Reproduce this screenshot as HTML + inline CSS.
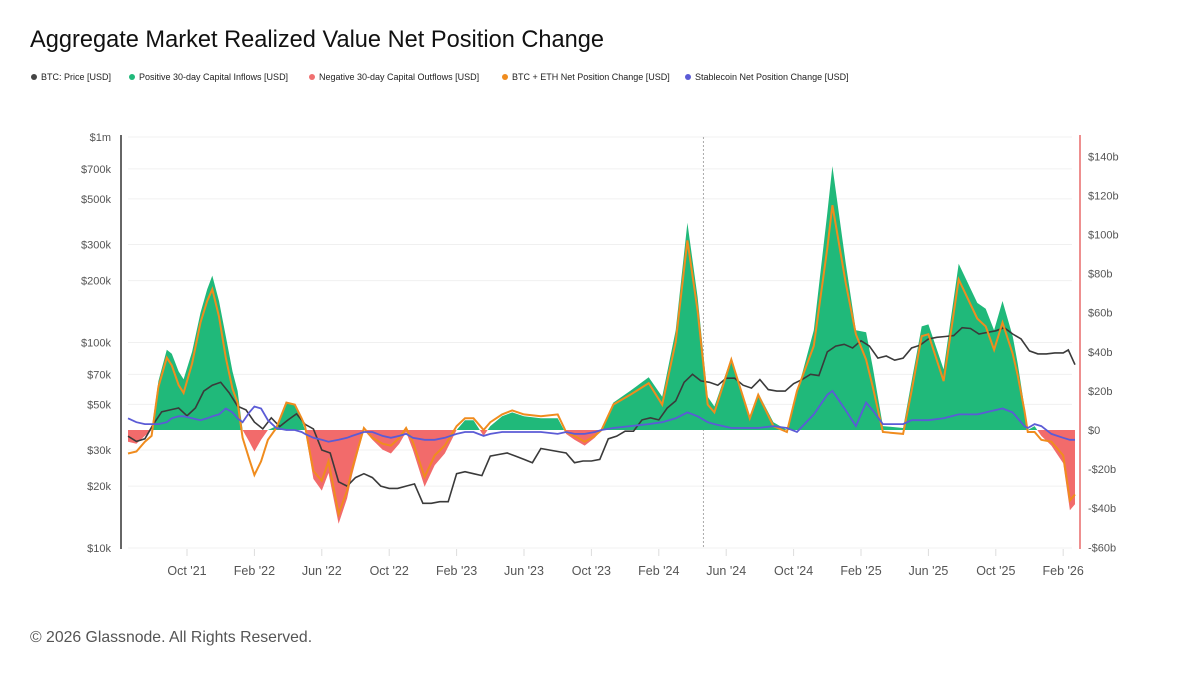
<!DOCTYPE html>
<html><head><meta charset="utf-8">
<style>
body{margin:0;background:#fff;font-family:"Liberation Sans",sans-serif;}
#wrap{position:relative;width:1200px;height:675px;overflow:hidden;}
.title{position:absolute;left:30px;top:27px;font-size:23.6px;color:#111;}
.legend{position:absolute;left:0;top:72px;font-size:9px;color:#222;}
.legend span{position:absolute;white-space:nowrap;display:flex;align-items:center;}
.legend i{display:inline-block;width:6px;height:6px;border-radius:50%;margin-right:4px;}
.foot{position:absolute;left:30px;top:629px;font-size:15.8px;color:#555;}
</style></head><body>
<div id="wrap">
<div class="title">Aggregate Market Realized Value Net Position Change</div>
<div class="legend">
<span style="left:31px"><i style="background:#444"></i>BTC: Price [USD]</span>
<span style="left:129px"><i style="background:#20b97a"></i>Positive 30-day Capital Inflows [USD]</span>
<span style="left:309px"><i style="background:#f07070"></i>Negative 30-day Capital Outflows [USD]</span>
<span style="left:502px"><i style="background:#f08c1e"></i>BTC + ETH Net Position Change [USD]</span>
<span style="left:685px"><i style="background:#5b5bd6"></i>Stablecoin Net Position Change [USD]</span>
</div>
<svg id="chart" width="1200" height="675" style="position:absolute;left:0;top:0"></svg>
<div class="foot">© 2026 Glassnode. All Rights Reserved.</div>
</div>
<script>
// months since Jan 2021
const netDates=[5.5,6.0,6.5,6.9,7.3,7.8,8.1,8.5,8.8,9.3,9.8,10.2,10.5,10.9,11.3,11.7,12.0,12.3,12.7,13.0,13.4,13.8,14.3,14.9,15.4,15.8,16.0,16.5,17.0,17.4,18.0,18.5,18.8,19.5,20.0,20.6,21.1,21.6,22.0,22.4,23.1,23.7,24.3,25.0,25.5,26.0,26.6,27.0,27.7,28.3,29,30,31,31.5,32.0,32.6,33.2,33.6,34.3,35.3,36.4,37.2,38.0,38.7,39.3,39.9,40.3,41.3,42.4,42.9,43.8,44.6,45.2,46.2,47.0,47.3,48.1,48.7,49.3,49.7,50.3,51.5,52.0,52.6,53.0,53.9,54.8,55.9,56.4,56.9,57.4,58.0,58.3,58.7,58.9,59.3,59.7,60.3,61.0,61.4,61.7];
const totalNet=[-6,-7,-3,0,25,41,39,30,26,40,60,72,79,66,48,30,20,0,-6,-11,-5,0,2,14,13,5,0,-25,-31,-22,-48,-35,-23,0,-5,-10,-12,-7,-1,-10,-29,-18,-12,0,5,5,-3,2,7,9,7,6,6,-2,-5,-8,-4,0,14,20,27,17,51,106,68,17,12,37,7,19,4,0,19,51,111,135,85,51,50,32,2,1,25,53,54,31,85,65,62,51,66,48,34,12,0,2,-3,-8,-17,-41,-38];
const stableNet=[6,4,3,3,3,4,6,7,7,6,5,6,7,8,11,9,6,4,9,12,11,5,1,0,0,-1,-2,-4,-5,-6,-5,-4,-3,-1,-1,-3,-4,-3,-2,-4,-5,-5,-4,-2,-1,-1,-3,-2,-1,-1,-1,-1,-2,-1,-2,-2,-1,0,1,2,3,4,6,9,7,4,3,1,1,1,2,1,-1,8,18,20,10,2,14,10,3,3,5,5,5,6,8,8,9,10,11,9,6,2,1,3,2,-2,-4,-5,-5];
const priceDates=[5.5,6,6.5,7,7.5,8,8.5,9,9.5,10,10.5,11,11.5,12,12.5,13,13.5,14,14.5,15,15.5,16,16.5,17,17.5,18,18.5,19,19.5,20,20.5,21,21.5,22,22.5,23,23.5,24,24.5,25,25.5,26,26.5,27,27.5,28,28.5,29,29.5,30,30.5,31,31.5,32,32.5,33,33.5,34,34.5,35,35.5,36,36.5,37,37.5,38,38.5,39,39.5,40,40.5,41,41.5,42,42.5,43,43.5,44,44.5,45,45.5,46,46.5,47,47.5,48,48.5,49,49.5,50,50.5,51,51.5,52,52.5,53,53.5,54,54.5,55,55.5,56,56.5,57,57.5,58,58.5,59,59.5,60,60.5,61,61.3,61.7];
const priceK=[35,33,34,40,46,47,48,44,48,58,62,64,57,49,47,41,38,43,39,42,45,40,38,30,29,21,20,22,23,22,20,19.5,19.5,20,20.5,16.5,16.5,16.8,16.8,23,23.5,23,22.5,28,28.5,29,28,27,26,30.5,30,29.5,29,26,26.5,26.5,27,34,35,37,37,42,43,42,48,52,64,70,65,64,62,67,67,62,60,66,59,58,58,63,66,70,69,90,96,98,94,102,96,84,86,82,84,94,97,104,106,107,108,118,117,110,112,114,118,110,104,91,88,88,89,89,92,78,68,69];
const leftTicks=[1000000,700000,500000,300000,200000,100000,70000,50000,30000,20000,10000];
const leftLabels=["$1m","$700k","$500k","$300k","$200k","$100k","$70k","$50k","$30k","$20k","$10k"];
const rightTicks=[140,120,100,80,60,40,20,0,-20,-40,-60];
const rightLabels=["$140b","$120b","$100b","$80b","$60b","$40b","$20b","$0","-$20b","-$40b","-$60b"];
const xTicks=[9,13,17,21,25,29,33,37,41,45,49,53,57,61];
const xLabels=["Oct '21","Feb '22","Jun '22","Oct '22","Feb '23","Jun '23","Oct '23","Feb '24","Jun '24","Oct '24","Feb '25","Jun '25","Oct '25","Feb '26"];
const halvingDate=39.65;

const svg=document.getElementById('chart');
const NS='http://www.w3.org/2000/svg';
const X=t=>187+(t-9)*16.85;
const YL=p=>137+(6-Math.log10(p))*205.5;
const YR=v=>430-v*1.955;
function mk(tag,attrs){const e=document.createElementNS(NS,tag);for(const k in attrs)e.setAttribute(k,attrs[k]);svg.appendChild(e);return e;}

leftTicks.forEach((p,i)=>{
  const g=mk('line',{x1:128,x2:1072,y1:YL(p),y2:YL(p),stroke:'#f0f0f0','stroke-width':1});
  
  
  const t=mk('text',{x:111,y:YL(p)+4,'text-anchor':'end','font-size':11,fill:'#555','font-family':'Liberation Sans'});
  t.textContent=leftLabels[i];
  
  
});
rightTicks.forEach((v,i)=>{
  const t=mk('text',{x:1088,y:YR(v)+4,'font-size':11,fill:'#555','font-family':'Liberation Sans'});
  t.textContent=rightLabels[i];
  
  
});
xTicks.forEach((m,i)=>{
  const l=mk('line',{x1:X(m),x2:X(m),y1:549,y2:556,stroke:'#ddd','stroke-width':1});
  
  
  const t=mk('text',{x:X(m),y:575,'text-anchor':'middle','font-size':12.5,fill:'#555','font-family':'Liberation Sans'});
  t.textContent=xLabels[i];
  
  
});
const hl=mk('line',{x1:X(halvingDate),x2:X(halvingDate),y1:137,y2:549,stroke:'#aaa','stroke-width':1,'stroke-dasharray':'2,2'});



const defs=mk('defs',{});
defs.innerHTML='<clipPath id="pos"><rect x="0" y="0" width="1200" height="'+YR(0)+'"/></clipPath><clipPath id="neg"><rect x="0" y="'+YR(0)+'" width="1200" height="400"/></clipPath>';
let area='M'+X(netDates[0])+','+YR(0);
netDates.forEach((t,i)=>{area+=' L'+X(t).toFixed(1)+','+YR(totalNet[i]).toFixed(1);});
area+=' L'+X(netDates[netDates.length-1])+','+YR(0)+' Z';
const ga=mk('path',{d:area,fill:'#20b97a','clip-path':'url(#pos)'});


const ra=mk('path',{d:area,fill:'#f26b6b','clip-path':'url(#neg)'});



function line(xs,ys,fx,fy){return xs.map((t,i)=>(i?'L':'M')+fx(t).toFixed(1)+','+fy(ys[i]).toFixed(1)).join(' ');}
const pp=mk('path',{d:line(priceDates,priceK,X,p=>YL(p*1000)),fill:'none',stroke:'#3a3a3a','stroke-width':1.6});


const orange=totalNet.map((v,i)=>v-stableNet[i]);
const op=mk('path',{d:line(netDates,orange,X,YR),fill:'none',stroke:'#f08c1e','stroke-width':2});


const bp=mk('path',{d:line(netDates,stableNet,X,YR),fill:'none',stroke:'#5b5bd6','stroke-width':1.8});



const la=mk('line',{x1:121,x2:121,y1:135,y2:549,stroke:'#666','stroke-width':2});


const ra2=mk('line',{x1:1080,x2:1080,y1:135,y2:549,stroke:'#e86a6a','stroke-width':1.5});


</script>
</body></html>
